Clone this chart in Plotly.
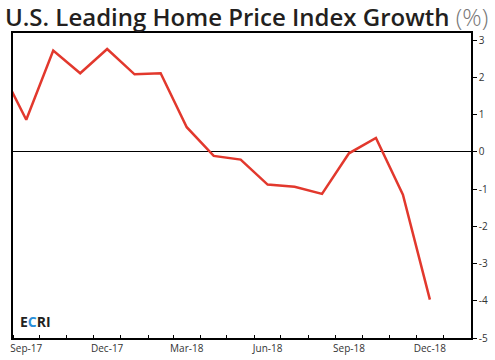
import pandas as pd
import plotly.graph_objects as go

months = ["2017-08", "2017-09", "2017-10", "2017-11", "2017-12", "2018-01", "2018-02",
          "2018-03", "2018-04", "2018-05", "2018-06", "2018-07", "2018-08", "2018-09",
          "2018-10", "2018-11", "2018-12"]
growth = [2.29, 0.86, 2.72, 2.11, 2.76, 2.08, 2.11, 0.66, -0.11, -0.21, -0.88, -0.94,
          -1.13, -0.04, 0.37, -1.15, -3.97]
tick_months = ["2017-09", "2017-12", "2018-03", "2018-06", "2018-09", "2018-12"]
tick_labels = ["Sep-17", "Dec-17", "Mar-18", "Jun-18", "Sep-18", "Dec-18"]
y_ticks = [-5, -4, -3, -2, -1, 0, 1, 2, 3]
y_tick_labels = ["-5", "-4", "-3", "-2", "-1", "0", "1", "2", "3"]


def mid(m):
    s = pd.Timestamp(m + "-01")
    e = s + pd.offsets.MonthBegin(1)
    return s + (e - s) / 2


x = [mid(m) for m in months]
tx = [mid(m) for m in tick_months]

fig = go.Figure()
fig.add_trace(go.Scatter(x=x, y=growth, mode="lines",
                         line=dict(color="#e2382d", width=2.5), hoverinfo="skip"))

fig.update_layout(
    template="none",
    width=495, height=360,
    margin=dict(l=13, r=24, t=33, b=22),
    paper_bgcolor="white", plot_bgcolor="white",
    showlegend=False,
    title=dict(
        text="U.S. Leading Home Price Index Growth <span style='color:#777;font-weight:300'>(%)</span>",
        x=0.01, xanchor="left", xref="container",
        y=0.95, yanchor="middle", yref="container",
        font=dict(family="Open Sans", size=24, color="#231f20", weight=600),
    ),
    font=dict(family="Open Sans", size=10, color="#333"),
)

fig.update_xaxes(
    type="date", automargin=False,
    range=["2017-09-01", "2019-02-01"],
    tickmode="array", tickvals=tx, ticktext=tick_labels,
    ticks="", showgrid=False, zeroline=False,
    showline=True, linecolor="black", linewidth=1.5, mirror=True,
    tickfont=dict(size=10, color="#333"),
    minor=dict(tickmode="linear", tick0="2017-09-01", dtick="M1",
               ticks="inside", ticklen=3, tickcolor="black", tickwidth=1, showgrid=False),
)

fig.update_yaxes(
    automargin=False,
    range=[-5, 3.19], side="right",
    tickmode="array", tickvals=y_ticks, ticktext=y_tick_labels,
    ticks="outside", ticklen=4, tickcolor="black", tickwidth=1,
    showgrid=False,
    showline=True, linecolor="black", linewidth=1.5, mirror=True,
    zeroline=True, zerolinecolor="black", zerolinewidth=1,
    tickfont=dict(size=10, color="#333"),
)

fig.add_annotation(
    text="<b><span style='color:#231f20'>E</span><span style='color:#2b8fd8'>C</span><span style='color:#231f20'>RI</span></b>",
    xref="paper", yref="paper", x=0.01, y=0.015, xanchor="left", yanchor="bottom",
    showarrow=False, font=dict(family="Open Sans", size=14),
)

fig.write_html("out.html", config={"displayModeBar": False},
               post_script="document.body.style.margin='0';")
